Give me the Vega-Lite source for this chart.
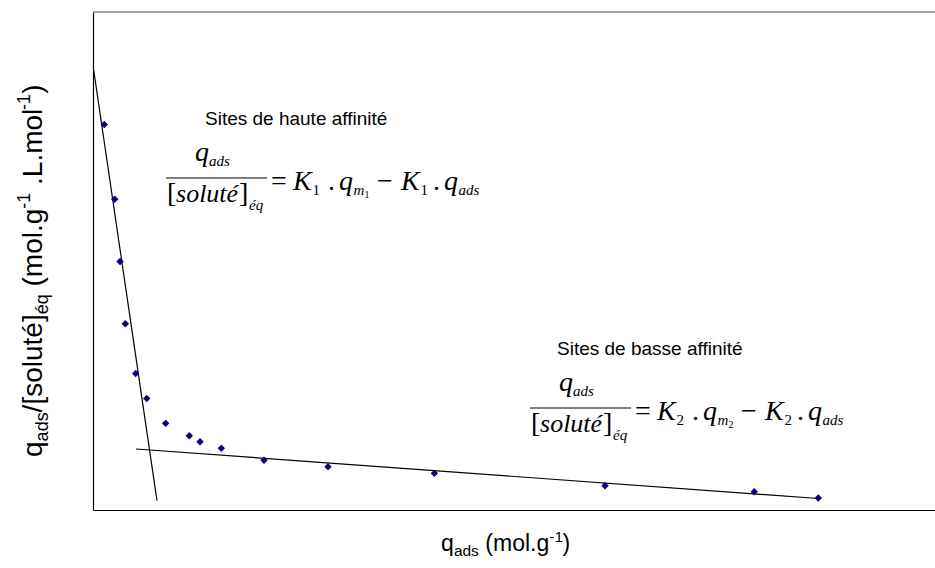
{
  "$schema": "https://vega.github.io/schema/vega-lite/v6.json",
  "width": 842,
  "height": 498,
  "autosize": {"type": "none"},
  "padding": {"left": 93, "top": 12, "right": 0, "bottom": 58},
  "background": "white",
  "config": {"view": {"stroke": null}, "text": {"color": "black", "align": "left", "baseline": "alphabetic"}},
  "datasets": {
    "points": [
      {"q_ads": 1.34, "ratio": 77.4},
      {"q_ads": 2.58, "ratio": 62.4},
      {"q_ads": 3.21, "ratio": 49.9},
      {"q_ads": 3.84, "ratio": 37.4},
      {"q_ads": 5.07, "ratio": 27.4},
      {"q_ads": 6.38, "ratio": 22.4},
      {"q_ads": 8.63, "ratio": 17.4},
      {"q_ads": 11.44, "ratio": 14.9},
      {"q_ads": 12.71, "ratio": 13.7},
      {"q_ads": 15.24, "ratio": 12.4},
      {"q_ads": 20.31, "ratio": 9.98},
      {"q_ads": 27.91, "ratio": 8.7},
      {"q_ads": 40.54, "ratio": 7.36},
      {"q_ads": 60.81, "ratio": 4.88},
      {"q_ads": 78.54, "ratio": 3.67},
      {"q_ads": 86.14, "ratio": 2.41}
    ],
    "fits": [
      {"sites": "haute", "q_ads": 0.08, "ratio": 88.35},
      {"sites": "haute", "q_ads": 7.6, "ratio": 1.87},
      {"sites": "basse", "q_ads": 5.11, "ratio": 12.25},
      {"sites": "basse", "q_ads": 86.1, "ratio": 2.31}
    ],
    "one": [{}]
  },
  "layer": [
    {
      "data": {"name": "fits"},
      "mark": {"type": "line", "color": "black", "strokeWidth": 1.2},
      "encoding": {
        "x": {"field": "q_ads", "type": "quantitative", "scale": {"domain": [0, 100], "nice": false, "zero": false},
              "axis": {"labels": false, "ticks": false, "grid": false, "title": null, "domainColor": "black", "domainWidth": 1.2}},
        "y": {"field": "ratio", "type": "quantitative", "scale": {"domain": [0, 100], "nice": false, "zero": false},
              "axis": {"labels": false, "ticks": false, "grid": false, "title": null, "domainColor": "black", "domainWidth": 1.2}},
        "detail": {"field": "sites"}
      }
    },
    {
      "data": {"name": "points"},
      "mark": {"type": "point", "shape": "diamond", "filled": true, "color": "#000080", "size": 55, "opacity": 1},
      "encoding": {
        "x": {"field": "q_ads", "type": "quantitative"},
        "y": {"field": "ratio", "type": "quantitative"}
      }
    },
    {"data": {"name": "one"},
     "layer": [
    {"mark": {"type": "rule", "color": "#888888", "strokeWidth": 1.5},
     "encoding": {"x": {"datum": 0, "type": "quantitative"}, "x2": {"datum": 100}, "y": {"datum": 100, "type": "quantitative"}}},

    {"mark": {"type": "text", "text": "Sites de haute affinité", "font": "Liberation Sans", "fontSize": 19},
     "encoding": {"x": {"datum": 13.3, "type": "quantitative"}, "y": {"datum": 77.31, "type": "quantitative"}}},
    {"mark": {"type": "text", "text": "Sites de basse affinité", "font": "Liberation Sans", "fontSize": 19},
     "encoding": {"x": {"datum": 55.11, "type": "quantitative"}, "y": {"datum": 31.12, "type": "quantitative"}}},

    {"mark": {"type": "text", "text": "q", "font": "Liberation Serif", "fontStyle": "italic", "fontSize": 28},
     "encoding": {"x": {"datum": 12.11, "type": "quantitative"}, "y": {"datum": 70.08, "type": "quantitative"}}},
    {"mark": {"type": "text", "text": "ads", "font": "Liberation Serif", "fontStyle": "italic", "fontSize": 15},
     "encoding": {"x": {"datum": 13.78, "type": "quantitative"}, "y": {"datum": 69.08, "type": "quantitative"}}},
    {"mark": {"type": "rule", "color": "black", "strokeWidth": 1},
     "encoding": {"x": {"datum": 8.67, "type": "quantitative"}, "x2": {"datum": 20.67}, "y": {"datum": 66.67, "type": "quantitative"}}},
    {"mark": {"type": "text", "text": "[", "font": "Liberation Serif", "fontSize": 28},
     "encoding": {"x": {"datum": 8.79, "type": "quantitative"}, "y": {"datum": 61.85, "type": "quantitative"}}},
    {"mark": {"type": "text", "text": "soluté", "font": "Liberation Serif", "fontStyle": "italic", "fontSize": 26},
     "encoding": {"x": {"datum": 9.86, "type": "quantitative"}, "y": {"datum": 61.85, "type": "quantitative"}}},
    {"mark": {"type": "text", "text": "]", "font": "Liberation Serif", "fontSize": 28},
     "encoding": {"x": {"datum": 17.34, "type": "quantitative"}, "y": {"datum": 61.85, "type": "quantitative"}}},
    {"mark": {"type": "text", "text": "éq", "font": "Liberation Serif", "fontStyle": "italic", "fontSize": 15},
     "encoding": {"x": {"datum": 18.53, "type": "quantitative"}, "y": {"datum": 60.24, "type": "quantitative"}}},
    {"mark": {"type": "text", "text": "=", "font": "Liberation Serif", "fontSize": 28},
     "encoding": {"x": {"datum": 21.14, "type": "quantitative"}, "y": {"datum": 64.26, "type": "quantitative"}}},
    {"mark": {"type": "text", "text": "K", "font": "Liberation Serif", "fontStyle": "italic", "fontSize": 28},
     "encoding": {"x": {"datum": 23.75, "type": "quantitative"}, "y": {"datum": 64.26, "type": "quantitative"}}},
    {"mark": {"type": "text", "text": "1", "font": "Liberation Serif", "fontSize": 15},
     "encoding": {"x": {"datum": 26.07, "type": "quantitative"}, "y": {"datum": 63.25, "type": "quantitative"}}},
    {"mark": {"type": "text", "text": ".", "font": "Liberation Serif", "fontSize": 28},
     "encoding": {"x": {"datum": 27.91, "type": "quantitative"}, "y": {"datum": 64.26, "type": "quantitative"}}},
    {"mark": {"type": "text", "text": "q", "font": "Liberation Serif", "fontStyle": "italic", "fontSize": 28},
     "encoding": {"x": {"datum": 29.22, "type": "quantitative"}, "y": {"datum": 64.26, "type": "quantitative"}}},
    {"mark": {"type": "text", "text": "m", "font": "Liberation Serif", "fontStyle": "italic", "fontSize": 15},
     "encoding": {"x": {"datum": 30.94, "type": "quantitative"}, "y": {"datum": 63.25, "type": "quantitative"}}},
    {"mark": {"type": "text", "text": "1", "font": "Liberation Serif", "fontSize": 10},
     "encoding": {"x": {"datum": 32.24, "type": "quantitative"}, "y": {"datum": 62.65, "type": "quantitative"}}},
    {"mark": {"type": "text", "text": "−", "font": "Liberation Serif", "fontSize": 28},
     "encoding": {"x": {"datum": 33.73, "type": "quantitative"}, "y": {"datum": 64.26, "type": "quantitative"}}},
    {"mark": {"type": "text", "text": "K", "font": "Liberation Serif", "fontStyle": "italic", "fontSize": 28},
     "encoding": {"x": {"datum": 36.58, "type": "quantitative"}, "y": {"datum": 64.26, "type": "quantitative"}}},
    {"mark": {"type": "text", "text": "1", "font": "Liberation Serif", "fontSize": 15},
     "encoding": {"x": {"datum": 38.9, "type": "quantitative"}, "y": {"datum": 63.25, "type": "quantitative"}}},
    {"mark": {"type": "text", "text": ".", "font": "Liberation Serif", "fontSize": 28},
     "encoding": {"x": {"datum": 40.38, "type": "quantitative"}, "y": {"datum": 64.26, "type": "quantitative"}}},
    {"mark": {"type": "text", "text": "q", "font": "Liberation Serif", "fontStyle": "italic", "fontSize": 28},
     "encoding": {"x": {"datum": 41.69, "type": "quantitative"}, "y": {"datum": 64.26, "type": "quantitative"}}},
    {"mark": {"type": "text", "text": "ads", "font": "Liberation Serif", "fontStyle": "italic", "fontSize": 15},
     "encoding": {"x": {"datum": 43.41, "type": "quantitative"}, "y": {"datum": 63.25, "type": "quantitative"}}},

    {"mark": {"type": "text", "text": "q", "font": "Liberation Serif", "fontStyle": "italic", "fontSize": 28},
     "encoding": {"x": {"datum": 55.34, "type": "quantitative"}, "y": {"datum": 23.9, "type": "quantitative"}}},
    {"mark": {"type": "text", "text": "ads", "font": "Liberation Serif", "fontStyle": "italic", "fontSize": 15},
     "encoding": {"x": {"datum": 57.01, "type": "quantitative"}, "y": {"datum": 22.89, "type": "quantitative"}}},
    {"mark": {"type": "rule", "color": "black", "strokeWidth": 1},
     "encoding": {"x": {"datum": 51.9, "type": "quantitative"}, "x2": {"datum": 63.9}, "y": {"datum": 20.48, "type": "quantitative"}}},
    {"mark": {"type": "text", "text": "[", "font": "Liberation Serif", "fontSize": 28},
     "encoding": {"x": {"datum": 52.02, "type": "quantitative"}, "y": {"datum": 15.66, "type": "quantitative"}}},
    {"mark": {"type": "text", "text": "soluté", "font": "Liberation Serif", "fontStyle": "italic", "fontSize": 26},
     "encoding": {"x": {"datum": 53.09, "type": "quantitative"}, "y": {"datum": 15.66, "type": "quantitative"}}},
    {"mark": {"type": "text", "text": "]", "font": "Liberation Serif", "fontSize": 28},
     "encoding": {"x": {"datum": 60.57, "type": "quantitative"}, "y": {"datum": 15.66, "type": "quantitative"}}},
    {"mark": {"type": "text", "text": "éq", "font": "Liberation Serif", "fontStyle": "italic", "fontSize": 15},
     "encoding": {"x": {"datum": 61.76, "type": "quantitative"}, "y": {"datum": 14.06, "type": "quantitative"}}},
    {"mark": {"type": "text", "text": "=", "font": "Liberation Serif", "fontSize": 28},
     "encoding": {"x": {"datum": 64.37, "type": "quantitative"}, "y": {"datum": 18.07, "type": "quantitative"}}},
    {"mark": {"type": "text", "text": "K", "font": "Liberation Serif", "fontStyle": "italic", "fontSize": 28},
     "encoding": {"x": {"datum": 66.98, "type": "quantitative"}, "y": {"datum": 18.07, "type": "quantitative"}}},
    {"mark": {"type": "text", "text": "2", "font": "Liberation Serif", "fontSize": 15},
     "encoding": {"x": {"datum": 69.3, "type": "quantitative"}, "y": {"datum": 17.07, "type": "quantitative"}}},
    {"mark": {"type": "text", "text": ".", "font": "Liberation Serif", "fontSize": 28},
     "encoding": {"x": {"datum": 71.14, "type": "quantitative"}, "y": {"datum": 18.07, "type": "quantitative"}}},
    {"mark": {"type": "text", "text": "q", "font": "Liberation Serif", "fontStyle": "italic", "fontSize": 28},
     "encoding": {"x": {"datum": 72.45, "type": "quantitative"}, "y": {"datum": 18.07, "type": "quantitative"}}},
    {"mark": {"type": "text", "text": "m", "font": "Liberation Serif", "fontStyle": "italic", "fontSize": 15},
     "encoding": {"x": {"datum": 74.17, "type": "quantitative"}, "y": {"datum": 17.07, "type": "quantitative"}}},
    {"mark": {"type": "text", "text": "2", "font": "Liberation Serif", "fontSize": 10},
     "encoding": {"x": {"datum": 75.48, "type": "quantitative"}, "y": {"datum": 16.47, "type": "quantitative"}}},
    {"mark": {"type": "text", "text": "−", "font": "Liberation Serif", "fontSize": 28},
     "encoding": {"x": {"datum": 76.96, "type": "quantitative"}, "y": {"datum": 18.07, "type": "quantitative"}}},
    {"mark": {"type": "text", "text": "K", "font": "Liberation Serif", "fontStyle": "italic", "fontSize": 28},
     "encoding": {"x": {"datum": 79.81, "type": "quantitative"}, "y": {"datum": 18.07, "type": "quantitative"}}},
    {"mark": {"type": "text", "text": "2", "font": "Liberation Serif", "fontSize": 15},
     "encoding": {"x": {"datum": 82.13, "type": "quantitative"}, "y": {"datum": 17.07, "type": "quantitative"}}},
    {"mark": {"type": "text", "text": ".", "font": "Liberation Serif", "fontSize": 28},
     "encoding": {"x": {"datum": 83.61, "type": "quantitative"}, "y": {"datum": 18.07, "type": "quantitative"}}},
    {"mark": {"type": "text", "text": "q", "font": "Liberation Serif", "fontStyle": "italic", "fontSize": 28},
     "encoding": {"x": {"datum": 84.92, "type": "quantitative"}, "y": {"datum": 18.07, "type": "quantitative"}}},
    {"mark": {"type": "text", "text": "ads", "font": "Liberation Serif", "fontStyle": "italic", "fontSize": 15},
     "encoding": {"x": {"datum": 86.64, "type": "quantitative"}, "y": {"datum": 17.07, "type": "quantitative"}}},

    {"mark": {"type": "text", "text": "q", "font": "Liberation Sans", "fontSize": 23},
     "encoding": {"x": {"datum": 41.33, "type": "quantitative"}, "y": {"datum": -8.23, "type": "quantitative"}}},
    {"mark": {"type": "text", "text": "ads", "font": "Liberation Sans", "fontSize": 15.5},
     "encoding": {"x": {"datum": 42.86, "type": "quantitative"}, "y": {"datum": -9.24, "type": "quantitative"}}},
    {"mark": {"type": "text", "text": "(mol.g", "font": "Liberation Sans", "fontSize": 23},
     "encoding": {"x": {"datum": 46.6, "type": "quantitative"}, "y": {"datum": -8.23, "type": "quantitative"}}},
    {"mark": {"type": "text", "text": "-1", "font": "Liberation Sans", "fontSize": 15.5},
     "encoding": {"x": {"datum": 54.19, "type": "quantitative"}, "y": {"datum": -6.43, "type": "quantitative"}}},
    {"mark": {"type": "text", "text": ")", "font": "Liberation Sans", "fontSize": 23},
     "encoding": {"x": {"datum": 55.77, "type": "quantitative"}, "y": {"datum": -8.23, "type": "quantitative"}}},

    {"mark": {"type": "text", "text": "q", "font": "Liberation Sans", "fontSize": 28, "angle": 270},
     "encoding": {"x": {"datum": -6.06, "type": "quantitative"}, "y": {"datum": 10.64, "type": "quantitative"}}},
    {"mark": {"type": "text", "text": "ads", "font": "Liberation Sans", "fontSize": 18, "angle": 270},
     "encoding": {"x": {"datum": -5.34, "type": "quantitative"}, "y": {"datum": 13.78, "type": "quantitative"}}},
    {"mark": {"type": "text", "text": "/[soluté]", "font": "Liberation Sans", "fontSize": 28, "angle": 270},
     "encoding": {"x": {"datum": -6.06, "type": "quantitative"}, "y": {"datum": 19.6, "type": "quantitative"}}},
    {"mark": {"type": "text", "text": "éq", "font": "Liberation Sans", "fontSize": 18, "angle": 270},
     "encoding": {"x": {"datum": -5.34, "type": "quantitative"}, "y": {"datum": 39.3, "type": "quantitative"}}},
    {"mark": {"type": "text", "text": "(mol.g", "font": "Liberation Sans", "fontSize": 28, "angle": 270},
     "encoding": {"x": {"datum": -6.06, "type": "quantitative"}, "y": {"datum": 44.88, "type": "quantitative"}}},
    {"mark": {"type": "text", "text": "-1", "font": "Liberation Sans", "fontSize": 18, "angle": 270},
     "encoding": {"x": {"datum": -7.48, "type": "quantitative"}, "y": {"datum": 60.5, "type": "quantitative"}}},
    {"mark": {"type": "text", "text": ".L.mol", "font": "Liberation Sans", "fontSize": 28, "angle": 270},
     "encoding": {"x": {"datum": -6.06, "type": "quantitative"}, "y": {"datum": 65.28, "type": "quantitative"}}},
    {"mark": {"type": "text", "text": "-1", "font": "Liberation Sans", "fontSize": 18, "angle": 270},
     "encoding": {"x": {"datum": -7.48, "type": "quantitative"}, "y": {"datum": 80.3, "type": "quantitative"}}},
    {"mark": {"type": "text", "text": ")", "font": "Liberation Sans", "fontSize": 28, "angle": 270},
     "encoding": {"x": {"datum": -6.06, "type": "quantitative"}, "y": {"datum": 83.6, "type": "quantitative"}}}
     ]
    }
  ]
}
